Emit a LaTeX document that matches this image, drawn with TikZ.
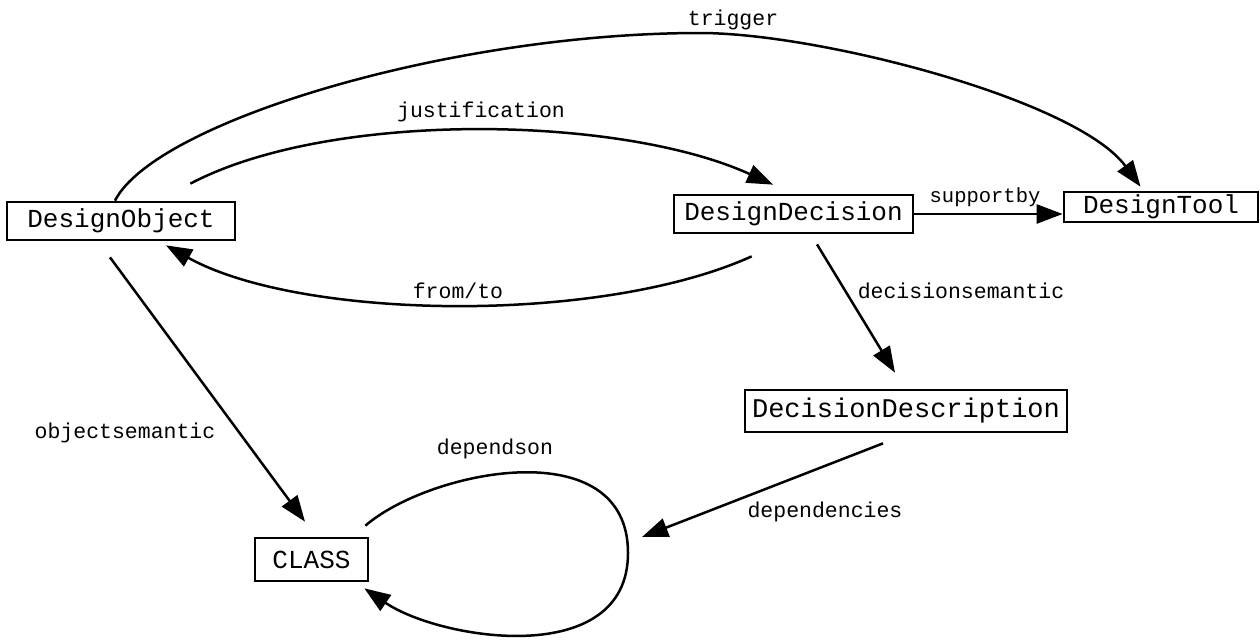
\documentclass[tikz,border=0pt]{standalone}
\usepackage{fontspec}
\newfontfamily\cour{Liberation Mono}
\usetikzlibrary{arrows.meta}
\newcommand\fsz[1]{\fontsize{#1}{#1}\selectfont}
\begin{document}
\begin{tikzpicture}[x=1pt,y=-1pt,
  box/.style={draw, line width=2.7pt, inner sep=0pt, align=center, font=\cour\fsz{26}},
  lbl/.style={inner sep=0pt, font=\cour\fsz{21.5}},
  conn/.style={line width=2.5pt, -{Triangle[length=26pt,width=19pt]}}]
\useasboundingbox (0,0) rectangle (1260,641);

% classes
\node[box, minimum width=228pt, minimum height=38pt] (DO) at (121,221) {DesignObject};
\node[box, minimum width=239pt, minimum height=38pt] (DD) at (793.5,214) {DesignDecision};
\node[box, minimum width=194pt, minimum height=30pt] (DT) at (1161,207) {DesignTool};
\node[box, minimum width=322pt, minimum height=42pt, font=\cour\fsz{27}] (DDesc) at (906,411) {DecisionDescription};
\node[box, minimum width=113pt, minimum height=43pt] (CL) at (311.5,559.5) {CLASS};

% relation labels
\node[lbl] (ltrig) at (733,20) {trigger};
\node[lbl] (ljust) at (481,112) {justification};
\node[lbl, font=\cour\fsz{20.5}] (lsup) at (985,197) {supportby};
\node[lbl] (lft) at (458,291) {from/to};
\node[lbl] (ldsem) at (961,291) {decisionsemantic};
\node[lbl] (losem) at (125,433) {objectsemantic};
\node[lbl] (ldep) at (825,512) {dependencies};
\node[lbl] (ldepon) at (495,449) {dependson};

% free end of the dependencies arrow, beside the loop
\coordinate (loopside) at (642,537);

% relations
\draw[conn] ([xshift=-6pt]DO.north) .. controls (155,122) and (450,33) .. (700,33)
  .. controls (820,33) and (1077,100) .. ([xshift=-20.5pt,yshift=4pt]DT.north);
\draw[conn] ([xshift=-46pt,yshift=17pt]DO.north east) .. controls (330,110) and (620,115) .. ([xshift=-20.5pt,yshift=9pt]DD.north);
\draw[conn] (DD.east) -- (DD.east -| DT.west);
\draw[conn] ([xshift=79pt,yshift=-22pt]DD.south west) .. controls (600,325) and (300,320) .. ([xshift=45pt,yshift=-4pt]DO.south);
\draw[conn] ([xshift=23.5pt,yshift=-10pt]DD.south) -- ([xshift=-11pt,yshift=16pt]DDesc.north);
\draw[conn] ([xshift=-11pt,yshift=-16pt]DO.south) -- ([xshift=-6.5pt,yshift=15pt]CL.north);
\draw[conn] ([xshift=-23pt,yshift=-10pt]DDesc.south) -- (loopside);
\draw[conn] ([xshift=-4pt,yshift=11pt]CL.north east) .. controls (430,470) and (628,430) .. (628,553)
  .. controls (628,670) and (440,640) .. ([xshift=-5pt,yshift=-6pt]CL.south east);
\end{tikzpicture}
\end{document}
